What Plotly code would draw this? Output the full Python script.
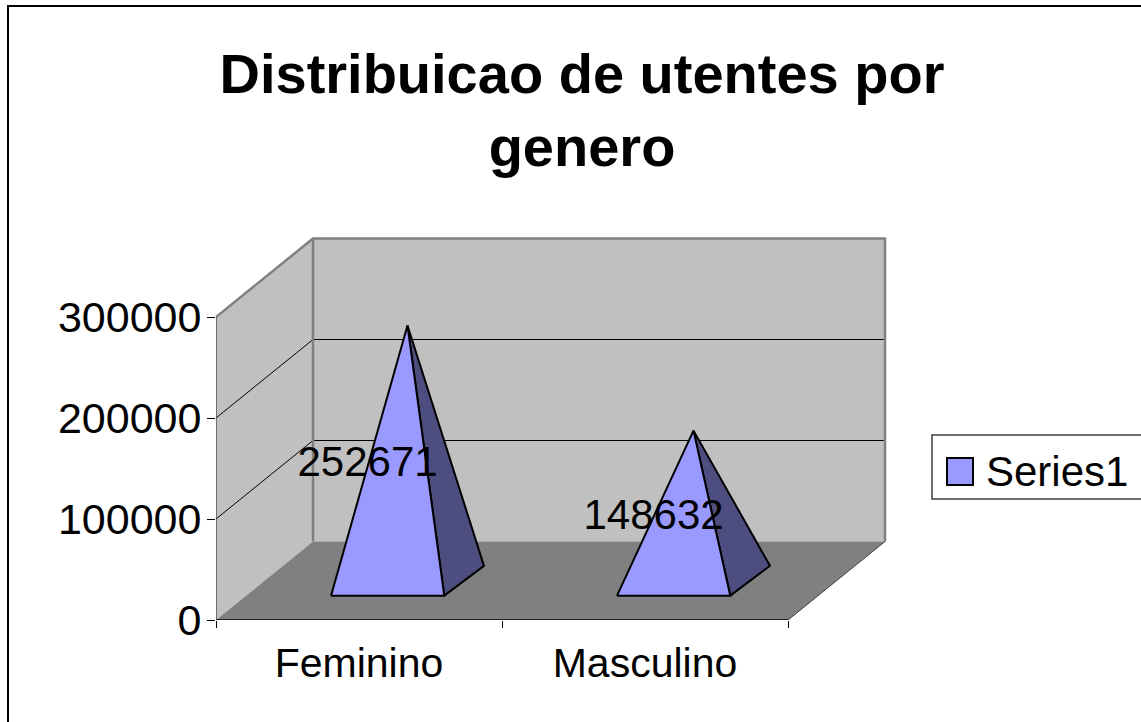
import plotly.graph_objects as go

# ---- data -------------------------------------------------------------
categories = ["Feminino", "Masculino"]
values = [252671, 148632]
series_name = "Series1"
y_ticks = [0, 100000, 200000, 300000]
title_lines = ["Distribuicao de utentes por", "genero"]

# ---- page / plot geometry ---------------------------------------------
W, H = 1141, 722
L, R, T, B = 216, 889, 235, 620           # plot rectangle, pixels (a little past the walls)
PX_PER_CAT = 286.0
PX_PER_UNIT = 303.0 / 300000.0
Y_MAX_AXIS = 300000
DX = 97.0 / PX_PER_CAT                    # oblique depth in category units
DY = 78.5 / PX_PER_UNIT                   # oblique depth in value units
x_max = (R - L) / PX_PER_CAT
y_max = (B - T) / PX_PER_UNIT
N = len(categories)

WALL, FLOOR, FACE, SIDE = "#C0C0C0", "#808080", "#9999FF", "#4D4D80"
FONT = "Liberation Sans, Arial, sans-serif"


def pr(x, v, z):
    """Oblique projection: category position, value and depth to axis coords."""
    return x + z * DX, v + z * DY


def poly(points):
    pts = [pr(*p) for p in points]
    return [p[0] for p in pts], [p[1] for p in pts]


fig = go.Figure()


def face(points, fill, line="rgba(0,0,0,0)", width=0):
    xs, ys = poly(points)
    fig.add_trace(go.Scatter(x=xs, y=ys, mode="lines", fill="toself", fillcolor=fill,
                             line=dict(color=line, width=width), showlegend=False,
                             hoverinfo="skip"))


def edge(points, color, width):
    xs, ys = poly(points)
    fig.add_trace(go.Scatter(x=xs, y=ys, mode="lines", line=dict(color=color, width=width),
                             showlegend=False, hoverinfo="skip", cliponaxis=False))


# walls and floor
face([(0, 0, 0), (0, Y_MAX_AXIS, 0), (0, Y_MAX_AXIS, 1), (0, 0, 1)], WALL)
face([(0, 0, 1), (0, Y_MAX_AXIS, 1), (N, Y_MAX_AXIS, 1), (N, 0, 1)], WALL)
face([(0, 0, 0), (0, 0, 1), (N, 0, 1), (N, 0, 0)], FLOOR)

# gridlines
for t in y_ticks[1:-1]:
    edge([(0, t, 0), (0, t, 1), (N, t, 1)], "#000000", 1)

# wall edges
edge([(0, Y_MAX_AXIS, 0), (0, Y_MAX_AXIS, 1), (N, Y_MAX_AXIS, 1), (N, 0, 1)], FLOOR, 2.5)
edge([(0, Y_MAX_AXIS, 1), (0, 0, 1)], FLOOR, 2.5)
edge([(0, 0, 0), (0, Y_MAX_AXIS, 0)], "#555555", 1.5)
edge([(N, 0, 0), (N, 0, 1)], "#404040", 1)
edge([(0, 0, 0), (N, 0, 0)], "#000000", 1.5)

# pyramids
CENTER, HALF, Z0, Z1, BACK_SHIFT = 0.495, 0.198, 0.31, 0.69, 0.01
for i, v in enumerate(values):
    c = i + CENTER
    apex = (i + 0.5, v, 0.5)
    a, b, d = (c - HALF, 0, Z0), (c + HALF, 0, Z0), (c + HALF + BACK_SHIFT, 0, Z1)
    face([b, d, apex, b], SIDE, "#000000", 2)
    face([a, b, apex, a], FACE, "#000000", 2)

# data labels
fig.add_trace(go.Scatter(
    x=[i + 0.53 for i in range(N)],
    y=[v / 2 + 0.34 * DY for v in values],
    text=[str(v) for v in values],
    mode="text", textposition="middle center",
    textfont=dict(family=FONT, size=42, color="#000000"),
    showlegend=False, hoverinfo="skip", cliponaxis=False))

# legend entry
fig.add_trace(go.Scatter(x=[None], y=[None], mode="markers", name=series_name,
                         marker=dict(symbol="square", size=16, color=FACE, line=dict(width=0))))

fx = lambda px: (px - L) / (R - L)
fy = lambda py: (B - py) / (B - T)

shapes = [
    # chart frame (runs past the right and bottom of the page)
    dict(type="rect", xref="paper", yref="paper", x0=fx(8), x1=fx(W + 20), y0=fy(6), y1=fy(H + 20),
         line=dict(color="#000000", width=2), fillcolor="rgba(0,0,0,0)", layer="below"),
    # legend frame
    dict(type="rect", xref="paper", yref="paper", x0=fx(932), x1=fx(W + 20), y0=fy(435), y1=fy(499),
         line=dict(color="#404040", width=1.5), fillcolor="#FFFFFF", layer="below"),
    # legend swatch
    dict(type="rect", xref="paper", yref="paper", x0=fx(947), x1=fx(973), y0=fy(458), y1=fy(485),
         line=dict(color="#000000", width=2), fillcolor=FACE, layer="above"),
]

fig.update_layout(
    width=W, height=H,
    margin=dict(l=L, r=W - R, t=T, b=H - B, autoexpand=False, pad=0),
    paper_bgcolor="#FFFFFF", plot_bgcolor="rgba(0,0,0,0)",
    font=dict(family=FONT, color="#000000"),
    title=dict(text="<br>".join(title_lines), x=582 / W, xref="container", xanchor="center",
               y=1 - 93 / H, yref="container", yanchor="top",
               font=dict(family=FONT, size=56, color="#000000", weight="bold"), automargin=False),
    xaxis=dict(range=[0, x_max], tickmode="array", tickvals=[i + 0.5 for i in range(N)],
               ticktext=categories, ticks="outside", ticklen=7, tickcolor="rgba(0,0,0,0)",
               showgrid=False, zeroline=False, showline=False, automargin=False,
               tickfont=dict(family=FONT, size=41, color="#000000"),
               minor=dict(tickmode="array", tickvals=list(range(N + 1)), ticks="outside",
                          ticklen=7, tickcolor="#000000", tickwidth=1, showgrid=False)),
    yaxis=dict(range=[0, y_max], tickmode="array", tickvals=y_ticks,
               ticktext=[str(t) for t in y_ticks], ticks="outside", ticklen=8,
               tickcolor="#000000", tickwidth=1, showgrid=False, zeroline=False,
               showline=False, automargin=False, ticklabelstandoff=-3,
               tickfont=dict(family=FONT, size=43, color="#000000")),
    legend=dict(x=fx(932), xanchor="left", y=fy(436), yanchor="top",
                bgcolor="rgba(0,0,0,0)", borderwidth=0,
                itemwidth=44, font=dict(family=FONT, size=42, color="#000000")),
    shapes=shapes,
)

fig.write_html("out.html", config=dict(displayModeBar=False),
               post_script="document.body.style.margin='0';document.documentElement.style.overflow='hidden';")
